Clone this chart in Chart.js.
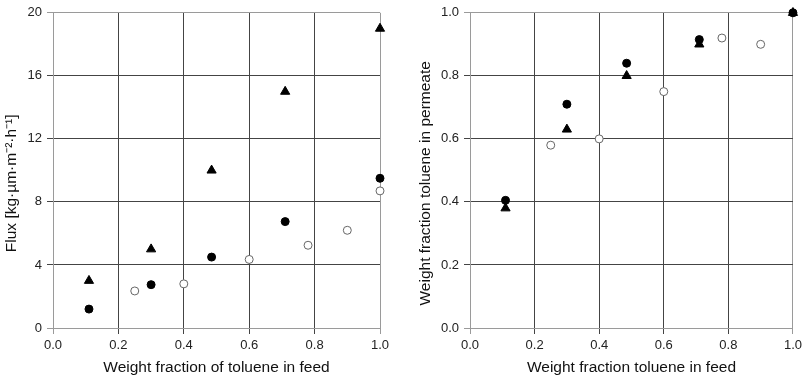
<!DOCTYPE html>
<html>
<head>
<meta charset="utf-8">
<script src="https://cdn.jsdelivr.net/npm/chart.js@4/dist/chart.umd.min.js"></script>
<style>
  html, body { margin: 0; padding: 0; background: #fff; }
  #wrap { position: relative; width: 806px; height: 378px; }
  .box { position: absolute; top: 0; height: 378px; }
  #b1 { left: 0; width: 400px; }
  #b2 { left: 400px; width: 406px; }
</style>
</head>
<body>
<div id="wrap">
  <div class="box" id="b1"><canvas id="c1"></canvas></div>
  <div class="box" id="b2"><canvas id="c2"></canvas></div>
</div>
<script>
// ---- Data ----
// Left panel: flux vs feed fraction
const fluxTriX   = [0.11, 0.30, 0.485, 0.71, 1.00];
const fluxTriY   = [3.0, 5.0, 10.0, 15.0, 19.0];
const fluxDotX   = [0.11, 0.30, 0.485, 0.71, 1.00];
const fluxDotY   = [1.2, 2.75, 4.5, 6.75, 9.5];
const fluxOpenX  = [0.25, 0.40, 0.60, 0.78, 0.90, 1.00];
const fluxOpenY  = [2.35, 2.8, 4.35, 5.25, 6.2, 8.7];
// Right panel: permeate fraction vs feed fraction
const permTriX   = [0.11, 0.30, 0.485, 0.71, 1.00];
const permTriY   = [0.38, 0.63, 0.80, 0.90, 1.00];
const permDotX   = [0.11, 0.30, 0.485, 0.71, 1.00];
const permDotY   = [0.405, 0.71, 0.84, 0.915, 1.00];
const permOpenX  = [0.25, 0.40, 0.60, 0.78, 0.90];
const permOpenY  = [0.58, 0.60, 0.75, 0.92, 0.90];

const xTicks      = [0, 0.2, 0.4, 0.6, 0.8, 1.0];
const fluxTicks   = [0, 4, 8, 12, 16, 20];
const permTicks   = [0, 0.2, 0.4, 0.6, 0.8, 1.0];

const xTitleLeft  = 'Weight fraction of toluene in feed';
const yTitleLeft  = 'Flux [kg·µm·m⁻²·h⁻¹]';
const xTitleRight = 'Weight fraction toluene in feed';
const yTitleRight = 'Weight fraction toluene in permeate';

function pts(xs, ys) { return xs.map((x, i) => ({ x: x, y: ys[i] })); }

const FONT = 'Liberation Sans, Arial, sans-serif';
const GRID = '#444';
const EDGE = '#9a9a9a';
// trailing spaces nudge the rotated y titles slightly downward, as in the reference
const Y_SHIFT = '\u00a0\u00a0\u00a0\u00a0\u00a0\u00a0';

function datasets(tx, ty, dx, dy, ox, oy) {
  return [
    { label: 'tri', data: pts(tx, ty), pointStyle: 'triangle', pointRadius: 5.3,
      backgroundColor: '#000', borderColor: '#000', borderWidth: 1, showLine: false },
    { label: 'dot', data: pts(dx, dy), pointStyle: 'circle', pointRadius: 4,
      backgroundColor: '#000', borderColor: '#000', borderWidth: 1, showLine: false },
    { label: 'open', data: pts(ox, oy), pointStyle: 'circle', pointRadius: 4,
      backgroundColor: '#fff', borderColor: '#666', borderWidth: 1, showLine: false }
  ];
}

function makeChart(id, ds, yMax, yTicks, yFmt, xTitle, yTitle, yWidth, yTitlePad, padTop, padRight) {
  const edgeColor = (ctx, max) => {
    const v = ctx.tick ? ctx.tick.value : null;
    return (v === 0 || Math.abs(v - max) < 1e-9) ? EDGE : GRID;
  };
  return new Chart(document.getElementById(id), {
    type: 'scatter',
    data: { datasets: ds },
    options: {
      responsive: true,
      maintainAspectRatio: false,
      animation: false,
      clip: false,
      layout: { padding: { top: padTop, right: padRight, left: 0, bottom: 0 } },
      plugins: { legend: { display: false }, tooltip: { enabled: false } },
      scales: {
        x: {
          type: 'linear', min: 0, max: 1,
          afterBuildTicks: s => { s.ticks = xTicks.map(v => ({ value: v })); },
          afterFit: s => { s.height = 50; },
          ticks: { callback: v => v.toFixed(1), color: '#222', padding: 4,
                   font: { family: FONT, size: 13 }, maxRotation: 0, autoSkip: false },
          grid: { color: c => edgeColor(c, 1), lineWidth: 1, tickLength: 6, drawTicks: true },
          border: { color: EDGE, width: 1 },
          title: { display: true, text: xTitle, color: '#111',
                   font: { family: FONT, size: 15.5 }, padding: { top: 0, bottom: 1 } }
        },
        y: {
          type: 'linear', min: 0, max: yMax,
          afterBuildTicks: s => { s.ticks = yTicks.map(v => ({ value: v })); },
          afterFit: s => { s.width = yWidth; },
          ticks: { callback: yFmt, color: '#222', padding: 5,
                   font: { family: FONT, size: 13 }, autoSkip: false },
          grid: { color: c => edgeColor(c, yMax), lineWidth: 1, tickLength: 6, drawTicks: true },
          border: { color: EDGE, width: 1 },
          title: { display: true, text: yTitle + Y_SHIFT, color: '#111',
                   font: { family: FONT, size: 15.5 }, padding: { top: yTitlePad, bottom: 0 } }
        }
      }
    }
  });
}

makeChart('c1', datasets(fluxTriX, fluxTriY, fluxDotX, fluxDotY, fluxOpenX, fluxOpenY),
  20, fluxTicks, v => String(v), xTitleLeft, yTitleLeft, 53, 2, 7, 20);
makeChart('c2', datasets(permTriX, permTriY, permDotX, permDotY, permOpenX, permOpenY),
  1, permTicks, v => v.toFixed(1), xTitleRight, yTitleRight, 70, 16, 6, 10);
</script>
</body>
</html>
